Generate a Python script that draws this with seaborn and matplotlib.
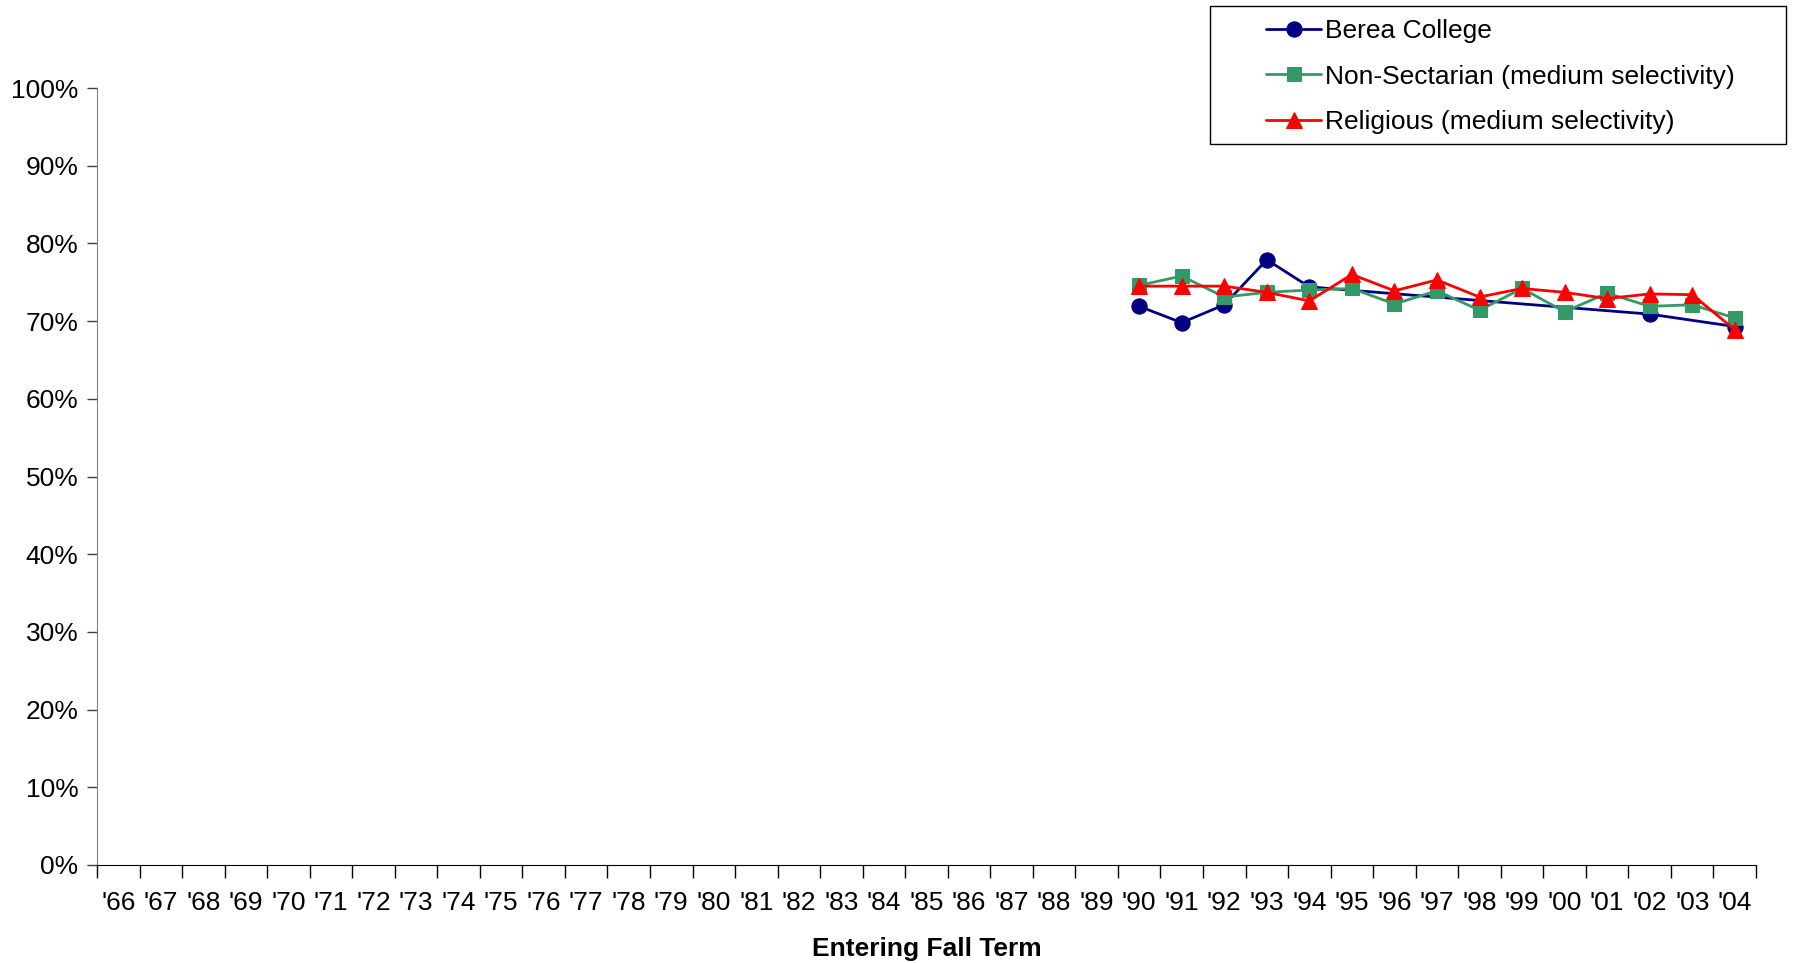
import pandas as pd
import matplotlib
matplotlib.use("Agg")
import matplotlib.pyplot as plt
from matplotlib.patches import Rectangle
from matplotlib.ticker import PercentFormatter, FixedLocator
import seaborn as sns

# Categories on the x axis (entering fall term)
all_years = [1966, 1967, 1968, 1969, 1970, 1971, 1972, 1973, 1974, 1975,
             1976, 1977, 1978, 1979, 1980, 1981, 1982, 1983, 1984, 1985,
             1986, 1987, 1988, 1989, 1990, 1991, 1992, 1993, 1994, 1995,
             1996, 1997, 1998, 1999, 2000, 2001, 2002, 2003, 2004]
tick_labels = ["'66", "'67", "'68", "'69", "'70", "'71", "'72", "'73", "'74",
               "'75", "'76", "'77", "'78", "'79", "'80", "'81", "'82", "'83",
               "'84", "'85", "'86", "'87", "'88", "'89", "'90", "'91", "'92",
               "'93", "'94", "'95", "'96", "'97", "'98", "'99", "'00", "'01",
               "'02", "'03", "'04"]

# Years that have data
data_years = [1990, 1991, 1992, 1993, 1994, 1995, 1996, 1997, 1998, 1999,
              2000, 2001, 2002, 2003, 2004]
berea = [0.719, 0.698, 0.721, 0.779, 0.744, None, None, None, None, None,
         None, None, 0.709, None, 0.693]
nonsectarian = [0.746, 0.758, 0.731, 0.737, 0.740, 0.742, 0.722, 0.739,
                0.714, 0.742, 0.712, 0.736, 0.719, 0.721, 0.704]
religious = [0.745, 0.745, 0.745, 0.737, 0.726, 0.760, 0.739, 0.753,
             0.731, 0.742, 0.737, 0.729, 0.735, 0.734, 0.689]

series_names = ["Berea College", "Non-Sectarian (medium selectivity)",
                "Religious (medium selectivity)"]

sns.set_style("white")
plt.rcParams["font.family"] = ["Liberation Sans", "DejaVu Sans"]
plt.rcParams["text.color"] = "black"
plt.rcParams["axes.labelcolor"] = "black"
plt.rcParams["xtick.color"] = "black"
plt.rcParams["ytick.color"] = "black"

fig = plt.figure(figsize=(17.94, 9.63), dpi=100)
ax = fig.add_axes([97 / 1794, 1 - 865 / 963, (1756 - 97) / 1794, 777 / 963])

styles = [("#000080", "o", 11), ("#339966", "s", 10), ("#FF0000", "^", 11)]
for name, vals, (col, mk, ms) in zip(series_names,
                                     [berea, nonsectarian, religious], styles):
    df = pd.DataFrame({"pos": [all_years.index(y) for y in data_years],
                       "rate": vals}).dropna()
    sns.lineplot(data=df, x="pos", y="rate", ax=ax, color=col, marker=mk,
                 markersize=ms, markeredgecolor=col, linewidth=2, label=name)

ax.set_xlim(-0.5, len(all_years) - 0.5)
ax.set_ylim(0, 1)
ax.yaxis.set_major_locator(FixedLocator([i / 10 for i in range(11)]))
ax.yaxis.set_major_formatter(PercentFormatter(1.0, decimals=0))

# category boundaries as ticks, labels centred between them
ax.set_xticks([i - 0.5 for i in range(len(all_years) + 1)])
ax.set_xticklabels([])
ax.set_xticks(range(len(all_years)), minor=True)
ax.set_xticklabels(tick_labels, minor=True)
ax.tick_params(axis="x", which="major", direction="out", length=9,
               width=1, color="black", bottom=True)
ax.tick_params(axis="x", which="minor", length=0, pad=19, labelsize=19)
ax.tick_params(axis="y", direction="out", length=7, width=1, color="#404040",
               left=True, pad=6.5, labelsize=19)

for s in ["top", "right"]:
    ax.spines[s].set_visible(False)
ax.spines["left"].set_color("#808080")
ax.spines["bottom"].set_color("black")

ax.set_ylabel("")
ax.set_xlabel("Entering Fall Term", fontsize=19, fontweight="bold")
ax.xaxis.set_label_coords(0.5, -0.108)
ax.xaxis.label.set_va("center")

# legend box drawn separately (Excel style wide padding)
fig.patches.append(Rectangle((1210 / 1794, 1 - 144 / 963), 576 / 1794,
                             138 / 963, transform=fig.transFigure,
                             facecolor="white", edgecolor="black",
                             linewidth=1, zorder=1))
handles, labels = ax.get_legend_handles_labels()
ax.get_legend().remove()
leg = fig.legend(handles, labels, loc="center left",
                 bbox_to_anchor=(1266 / 1794, 1 - 76.5 / 963),
                 fontsize=19, frameon=False, borderpad=0,
                 handlelength=2.1, handletextpad=0.15,
                 labelspacing=0.82, borderaxespad=0)
leg.set_zorder(5)

fig.savefig("out.png", dpi=100)
